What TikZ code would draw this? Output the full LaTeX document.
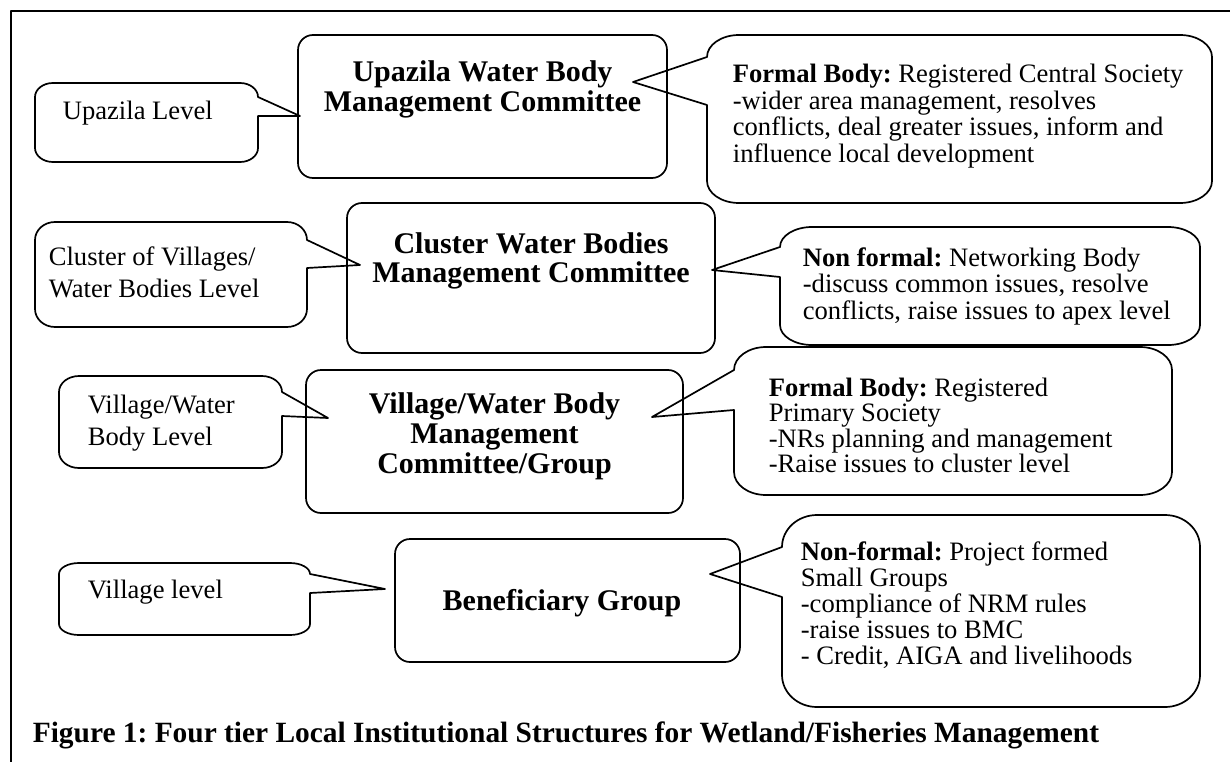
\documentclass[tikz,border=0pt]{standalone}
\usepackage{fontspec}
\setmainfont{Liberation Serif}
\frenchspacing
\newcommand\leftlines[2]{\vtop{\baselineskip=#1pt\lineskiplimit=-100pt\halign{##\hfil\cr#2\crcr}}}
\newcommand\midlines[2]{\vtop{\baselineskip=#1pt\lineskiplimit=-100pt\halign{\hfil##\hfil\cr#2\crcr}}}
% callout with wedge on its right side (points right)
\newcommand\calloutE[9]{%
 \draw ({#1+#5},#2) -- ({#3-#5},#2) arc[start angle=-90,end angle=0,x radius=#5,y radius=#6]
 -- (#7,#8) -- (#3,#9) -- (#3,{#4-#6}) arc[start angle=0,end angle=90,x radius=#5,y radius=#6]
 -- ({#1+#5},#4) arc[start angle=90,end angle=180,x radius=#5,y radius=#6]
 -- (#1,{#2+#6}) arc[start angle=180,end angle=270,x radius=#5,y radius=#6] -- cycle;}
% callout with wedge on its left side (points left)
\newcommand\calloutW[9]{%
 \draw ({#1+#5},#2) -- ({#3-#5},#2) arc[start angle=-90,end angle=0,x radius=#5,y radius=#6]
 -- (#3,{#4-#6}) arc[start angle=0,end angle=90,x radius=#5,y radius=#6]
 -- ({#1+#5},#4) arc[start angle=90,end angle=180,x radius=#5,y radius=#6]
 -- (#1,#9) -- (#7,#8) -- (#1,{#2+#6}) arc[start angle=180,end angle=270,x radius=#5,y radius=#6] -- cycle;}
\begin{document}
\begin{tikzpicture}[x=1pt,y=-1pt,line width=1.7pt,line join=round,
  reg/.style={font=\fontsize{26.6}{26.6}\selectfont,inner sep=0pt,anchor=base west},
  ttl/.style={font=\bfseries\fontsize{30}{30}\selectfont,inner sep=0pt,anchor=base},
  tierbox/.style={draw,rounded corners=15pt,inner sep=0pt}]
\useasboundingbox (0,0) rectangle (1230,762);
\fill[white] (0,0) rectangle (1230,762);
% frame
\draw[line width=2pt] (11,762) -- (11,11) -- (1230,11);

% tier boxes
\node[tierbox,minimum width=369pt,minimum height=143pt] (upz) at (482.5,106.5) {};
\node[tierbox,minimum width=368pt,minimum height=150pt] (clu) at (531,278) {};
\node[tierbox,minimum width=377pt,minimum height=143pt] (vil) at (494.5,441.5) {};
\node[tierbox,minimum width=345pt,minimum height=123pt] (ben) at (567.5,600.5) {};

\node[ttl] (upzt) at (482.5,82) {\midlines{30}{Upazila Water Body\cr Management Committee}};
\node[ttl] (clut) at (531,253) {\midlines{29}{Cluster Water Bodies\cr Management Committee}};
\node[ttl] (vilt) at (494.5,413) {\midlines{30}{Village/Water Body\cr Management\cr Committee/Group}};
\node[ttl] (bent) at (562,610) {Beneficiary Group};

% left callouts
\calloutE{35}{83}{258}{162}{18}{14}{300}{116}{116}
\calloutE{35}{222}{307}{327}{20}{18}{360}{265}{268}
\calloutE{59}{376}{282}{468}{20}{16}{328}{418}{416}
\calloutE{59}{563}{310}{635}{20}{11}{385}{589}{593}

\node[reg] (l1) at (62,120) {Upazila Level};
\node[reg] (l2) at (48,265) {\leftlines{32}{Cluster of Villages/\cr Water Bodies Level}};
\node[reg] (l3) at (87,413) {\leftlines{32}{Village/Water\cr Body Level}};
\node[reg] (l4) at (87,598) {Village level};

% right callouts
\calloutW{707}{35}{1212}{203}{32}{22}{633}{82}{105}
\calloutW{780}{227}{1200}{345}{32}{20}{712}{270}{277}
\calloutW{734}{347}{1172}{495}{32}{23}{652}{417}{410}
\calloutW{782}{515}{1200}{707}{35}{32}{710}{574}{597}

\node[reg] (r1) at (732,83) {\leftlines{26.5}{\textbf{Formal Body:} Registered Central Society\cr -wider area management, resolves\cr conflicts, deal greater issues, inform and\cr influence local development}};
\node[reg] (r2) at (802,266) {\leftlines{26.5}{\textbf{Non formal:} Networking Body\cr -discuss common issues, resolve\cr conflicts, raise issues to apex level}};
\node[reg] (r3) at (768,396) {\leftlines{25.5}{\textbf{Formal Body:} Registered\cr Primary Society\cr -NRs planning and management\cr -Raise issues to cluster level}};
\node[reg] (r4) at (800,560) {\leftlines{26}{\textbf{Non-formal:} Project formed\cr Small Groups\cr -compliance of NRM rules\cr -raise issues to BMC\cr - Credit, AIGA and livelihoods}};

% caption
\node[font=\bfseries\fontsize{29.4}{29.4}\selectfont,inner sep=0pt,anchor=base west] (cap) at (32,742) {Figure 1: Four tier Local Institutional Structures for Wetland/Fisheries Management};
\end{tikzpicture}
\end{document}
